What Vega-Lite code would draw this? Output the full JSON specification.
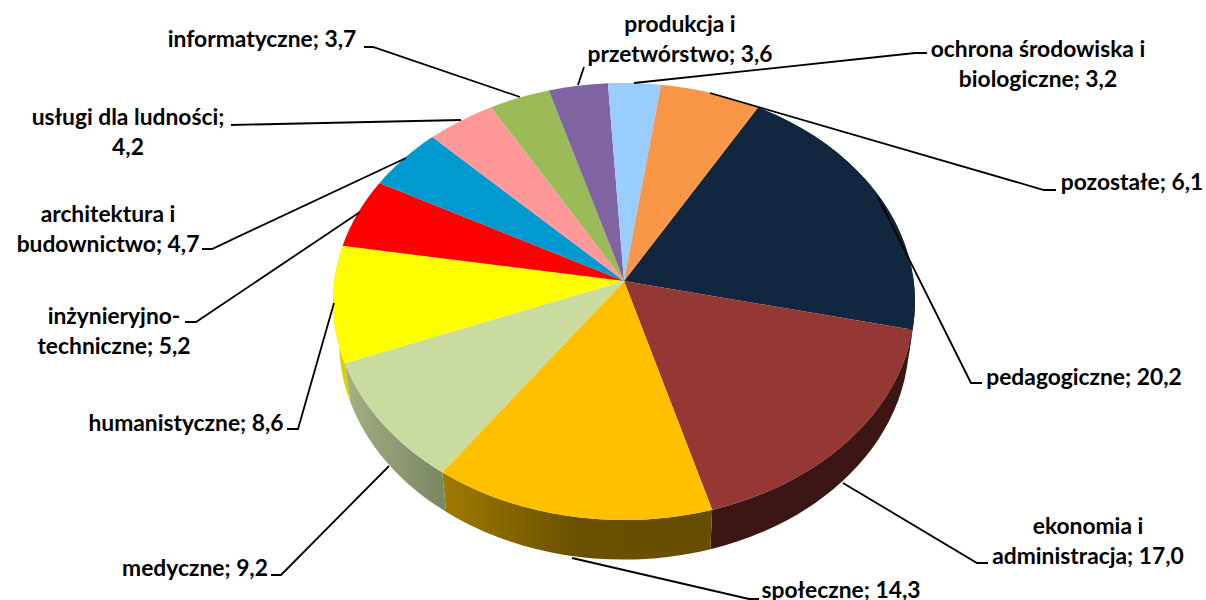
{
"$schema":"https://vega.github.io/schema/vega-lite/v6.json",
"width":1206,"height":600,"padding":0,"autosize":{"type":"none"},
"background":"white",
"config":{"view":{"stroke":null}},
"data":{"values":[
{"order":1,"category":"pedagogiczne","value":20.2,"label":"pedagogiczne; 20,2"},
{"order":2,"category":"ekonomia i administracja","value":17.0,"label":"ekonomia i\nadministracja; 17,0"},
{"order":3,"category":"społeczne","value":14.3,"label":"społeczne; 14,3"},
{"order":4,"category":"medyczne","value":9.2,"label":"medyczne; 9,2"},
{"order":5,"category":"humanistyczne","value":8.6,"label":"humanistyczne; 8,6"},
{"order":6,"category":"inżynieryjno-techniczne","value":5.2,"label":"inżynieryjno-\ntechniczne; 5,2"},
{"order":7,"category":"architektura i budownictwo","value":4.7,"label":"architektura i\nbudownictwo; 4,7"},
{"order":8,"category":"usługi dla ludności","value":4.2,"label":"usługi dla ludności;\n4,2"},
{"order":9,"category":"informatyczne","value":3.7,"label":"informatyczne; 3,7"},
{"order":10,"category":"produkcja i przetwórstwo","value":3.6,"label":"produkcja i\nprzetwórstwo; 3,6"},
{"order":11,"category":"ochrona środowiska i biologiczne","value":3.2,"label":"ochrona środowiska i\nbiologiczne; 3,2"},
{"order":12,"category":"pozostałe","value":6.1,"label":"pozostałe; 6,1"}
]},
"transform":[
{"stack":"value","sort":[{"field":"order","order":"ascending"}],"as":["v0","v1"]},
{"calculate":"(datum.v0*3.6+30)*PI/180","as":"a0"},
{"calculate":"(datum.v1*3.6+30)*PI/180","as":"a1"},
{"calculate":"624+289.7*sin(datum.a0)/(1+0.0938*cos(datum.a0))","as":"x0"},
{"calculate":"281-216.6*cos(datum.a0)/(1+0.0938*cos(datum.a0))","as":"y0"},
{"calculate":"624+289.7*sin(datum.a1)/(1+0.0938*cos(datum.a1))","as":"x1"},
{"calculate":"281-216.6*cos(datum.a1)/(1+0.0938*cos(datum.a1))","as":"y1"},
{"calculate":"'M624,281L'+datum.x0+','+datum.y0+'A291,218.5,0,0,1,'+datum.x1+','+datum.y1+'Z'","as":"wedge"},
{"calculate":"'M'+datum.x0+','+datum.y0+'A291,218.5,0,0,1,'+datum.x1+','+datum.y1+'L'+(624+(datum.x1-624)*0.9794)+','+(datum.y1+39.5)+'A285,219,0,0,0,'+(624+(datum.x0-624)*0.9794)+','+(datum.y0+39.5)+'Z'","as":"side"},
{"calculate":"{'pedagogiczne':'M982,383L971,383L878,197','ekonomia i administracja':'M988,563L977,563L843,483','społeczne':'M759,599L749,599L572,558','medyczne':'M271,575L281,575L389,466','humanistyczne':'M287,429L298,429L334,303','inżynieryjno-techniczne':'M185,322L196,322L360,212','architektura i budownictwo':'M202,249L212,249L406,158','usługi dla ludności':'M231,125L461,120','informatyczne':'M364,47L373,47L520,97','produkcja i przetwórstwo':'M584,67L578,85','ochrona środowiska i biologiczne':'M927,53L915,53L634,83','pozostałe':'M1056,190L1044,190L710,93'}[datum.category]","as":"leader"},
{"calculate":"{'pedagogiczne':1084,'ekonomia i administracja':1088,'społeczne':841,'medyczne':195,'humanistyczne':186,'inżynieryjno-techniczne':114,'architektura i budownictwo':108,'usługi dla ludności':128,'informatyczne':262,'produkcja i przetwórstwo':680,'ochrona środowiska i biologiczne':1038,'pozostałe':1132}[datum.category]","as":"lx"},
{"calculate":"{'pedagogiczne':378,'ekonomia i administracja':527,'społeczne':591,'medyczne':569,'humanistyczne':424,'inżynieryjno-techniczne':317,'architektura i budownictwo':215,'usługi dla ludności':118,'informatyczne':40,'produkcja i przetwórstwo':25,'ochrona środowiska i biologiczne':50,'pozostałe':183}[datum.category]","as":"ly"}
],
"layer":[
{"encoding":{
"x":{"datum":0,"type":"quantitative","scale":{"domain":[0,1206],"nice":false,"zero":false},"axis":null},
"y":{"datum":0,"type":"quantitative","scale":{"domain":[600,0],"nice":false,"zero":false},"axis":null}
},
"layer":[
{"transform":[{"filter":"datum.category==='pedagogiczne'"}],
 "mark":{"type":"point","filled":true,"opacity":1,"size":4,"fill":"#0C1A2C","strokeWidth":0},
 "encoding":{"shape":{"field":"side","type":"nominal","scale":null}}},
{"transform":[{"filter":"datum.category==='ekonomia i administracja'"}],
 "mark":{"type":"point","filled":true,"opacity":1,"size":4,"fill":"#3B1615","strokeWidth":0},
 "encoding":{"shape":{"field":"side","type":"nominal","scale":null}}},
{"transform":[{"filter":"datum.category==='społeczne'"}],
 "mark":{"type":"point","filled":true,"opacity":1,"size":4,"strokeWidth":0,
  "fill":{"gradient":"linear","x1":0,"x2":1,"y1":0,"y2":0,"stops":[{"offset":0,"color":"#A07A00"},{"offset":0.5,"color":"#6A5000"},{"offset":1,"color":"#664D00"}]}},
 "encoding":{"shape":{"field":"side","type":"nominal","scale":null}}},
{"transform":[{"filter":"datum.category==='medyczne'"}],
 "mark":{"type":"point","filled":true,"opacity":1,"size":4,"strokeWidth":0,
  "fill":{"gradient":"linear","x1":0,"x2":1,"y1":0,"y2":0,"stops":[{"offset":0,"color":"#A3B082"},{"offset":1,"color":"#788564"}]}},
 "encoding":{"shape":{"field":"side","type":"nominal","scale":null}}},
{"transform":[{"filter":"datum.category==='humanistyczne'"}],
 "mark":{"type":"point","filled":true,"opacity":1,"size":4,"fill":"#D6D200","strokeWidth":0},
 "encoding":{"shape":{"field":"side","type":"nominal","scale":null}}},
{"mark":{"type":"point","filled":true,"opacity":1,"size":4,"strokeWidth":0},
 "encoding":{
  "shape":{"field":"wedge","type":"nominal","scale":null},
  "color":{"field":"category","type":"nominal","legend":null,
   "scale":{"domain":["pedagogiczne","ekonomia i administracja","społeczne","medyczne","humanistyczne","inżynieryjno-techniczne","architektura i budownictwo","usługi dla ludności","informatyczne","produkcja i przetwórstwo","ochrona środowiska i biologiczne","pozostałe"],
   "range":["#12263F","#953735","#FFC000","#C9DB9F","#FFFF00","#FF0000","#0099D0","#FF9999","#9BBB59","#8064A2","#99CCFF","#F79646"]}}}},
{"mark":{"type":"point","filled":false,"opacity":1,"size":4,"stroke":"#000000","strokeWidth":1.8},
 "encoding":{"shape":{"field":"leader","type":"nominal","scale":null}}}
]},
{"mark":{"type":"text","font":"Lato","fontWeight":"bold","fontSize":22.8,"lineBreak":"\n","lineHeight":30,"align":"center","baseline":"middle","color":"#000000"},
 "encoding":{
  "x":{"field":"lx","type":"quantitative","scale":{"domain":[0,1206],"nice":false,"zero":false},"axis":null},
  "y":{"field":"ly","type":"quantitative","scale":{"domain":[600,0],"nice":false,"zero":false},"axis":null},
  "text":{"field":"label","type":"nominal"}}}
]
}
